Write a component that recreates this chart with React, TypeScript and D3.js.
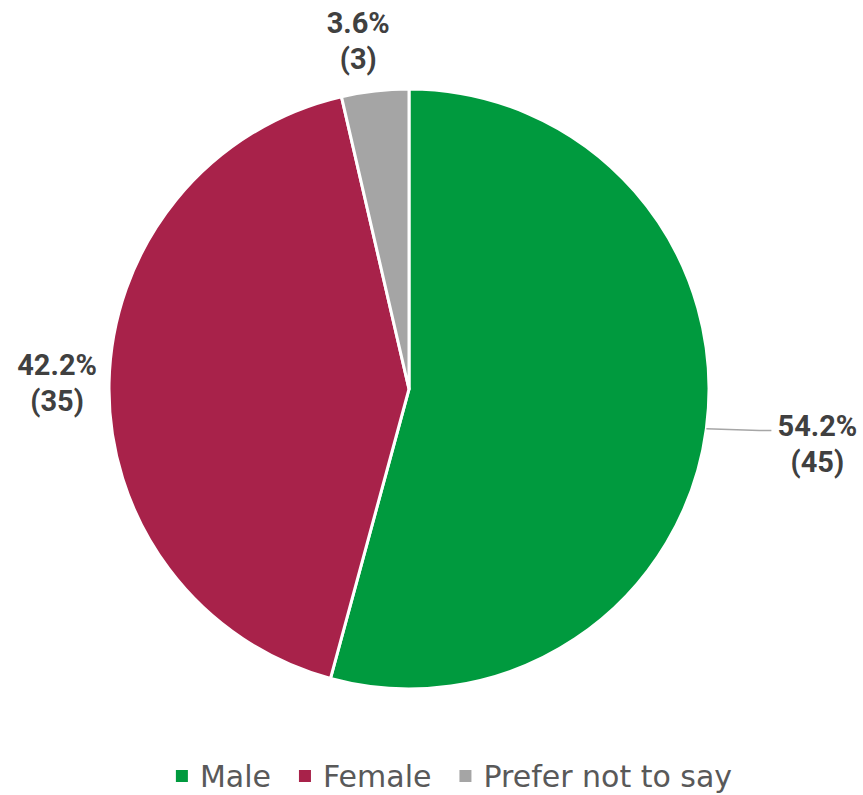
import React, { useEffect, useRef } from "react";
import * as d3 from "d3";

const categories = ["Male", "Female", "Prefer not to say"];
const counts = [45, 35, 3];
const colors = ["#009A3E", "#A8224A", "#A5A5A5"];
const labelRadii = [412, 352, 351];
const labelDx = [0, 0, -11];

const W = 863;
const H = 795;

export default function App() {
  const ref = useRef<SVGSVGElement>(null);
  useEffect(() => {
    const svg = d3.select(ref.current);
    svg.selectAll("*").remove();
    const cx = 409, cy = 389, R = 300;
    const total = d3.sum(counts);
    const data = categories.map((c, i) => ({ c, v: counts[i], i }));
    const pie = d3.pie<any>().value((d) => d.v).sort(null);
    const arcs = pie(data);
    const arc = d3.arc<any>().innerRadius(0).outerRadius(R);
    const g = svg.append("g").attr("transform", `translate(${cx},${cy})`);
    g.selectAll("path")
      .data(arcs)
      .join("path")
      .attr("d", arc as any)
      .attr("fill", (d: any) => colors[d.data.i])
      .attr("stroke", "#fff")
      .attr("stroke-width", 3)
      .attr("stroke-linejoin", "round");

    arcs.forEach((a: any, k) => {
      const mid = (a.startAngle + a.endAngle) / 2;
      const r = labelRadii[k];
      const x = r * Math.sin(mid) + labelDx[k];
      const y = -r * Math.cos(mid);
      const pct = d3.format(".1f")((a.data.v / total) * 100) + "%";
      const t = g.append("text")
        .attr("text-anchor", "middle")
        .attr("font-family", "Roboto, 'Liberation Sans', sans-serif")
        .attr("font-weight", "bold")
        .attr("font-size", 29)
        .attr("fill", "#404040");
      t.append("tspan").attr("x", x).attr("y", y - 7).text(pct);
      t.append("tspan").attr("x", x).attr("y", y + 29).text(`(${a.data.v})`);
      if (k === 0) {
        const p0 = [R * Math.sin(mid), -R * Math.cos(mid)];
        const line = d3.line();
        g.append("path")
          .attr("d", line([[p0[0], p0[1]], [x - 58, y - 13], [x - 46, y - 13]] as any))
          .attr("fill", "none")
          .attr("stroke", "#A6A6A6")
          .attr("stroke-width", 1.5);
      }
    });

    // legend
    const leg = svg.append("g");
    const fs = 30;
    const tmp = categories.map((c) =>
      leg.append("text")
        .attr("font-family", "'DejaVu Sans', sans-serif")
        .attr("font-size", fs)
        .attr("fill", "#595959")
        .text(c)
    );
    const sq = 12, gap1 = 12, gap2 = 28;
    const widths = tmp.map((t) => (t.node() as SVGTextElement).getComputedTextLength());
    const totalW = d3.sum(widths) + categories.length * (sq + gap1) + (categories.length - 1) * gap2;
    let x = 454 - totalW / 2;
    const baseY = 787;
    categories.forEach((c, i) => {
      leg.append("rect")
        .attr("x", x)
        .attr("y", baseY - 17)
        .attr("width", sq)
        .attr("height", sq)
        .attr("fill", colors[i]);
      x += sq + gap1;
      tmp[i].attr("x", x).attr("y", baseY);
      x += widths[i] + gap2;
    });
  }, []);
  return (
    <svg
      ref={ref}
      width={W}
      height={H}
      style={{ position: "absolute", left: 0, top: 0, background: "#fff" }}
    />
  );
}
